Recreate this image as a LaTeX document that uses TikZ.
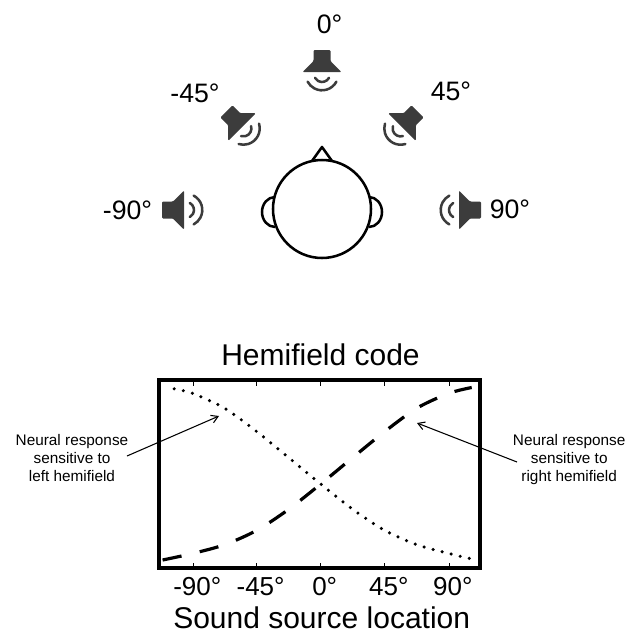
\documentclass[tikz,border=0pt]{standalone}
\usepackage{fontspec}
\setmainfont{Liberation Sans}
\usetikzlibrary{arrows.meta}
\definecolor{spk}{RGB}{60,60,60}
\begin{document}
\begin{tikzpicture}[x=0.75pt,y=-0.75pt,
  angle label/.style={font=\fontsize{20}{24}\selectfont, anchor=base, inner sep=0pt},
  tick label/.style={font=\fontsize{19.5}{23}\selectfont, anchor=base, inner sep=0pt},
  axis title/.style={font=\fontsize{22.5}{27}\selectfont, anchor=base, inner sep=0pt},
  note/.style={font=\fontsize{11.5}{13.5}\selectfont, align=center, anchor=base, inner sep=0pt},
  pointer/.style={line width=0.8pt, -{Straight Barb[length=5pt,width=6pt]}},
  headline/.style={line width=1.9pt, line join=round},
  leftcurve/.style={line width=2.6pt, line cap=round, dash pattern=on 0pt off 7pt},
  rightcurve/.style={line width=2.4pt, dash pattern=on 14.5pt off 14pt},
  speaker/.pic={
    \fill[spk, rounded corners=0.8pt]
      (-22,-8.5) -- (-11,-8.5) -- (0,-19.5) -- (0,19.5) -- (-11,8.5) -- (-22,8.5) -- cycle;
    \draw[spk, line width=1.9pt, line cap=round]
      (2,0) ++(-62:8) arc[start angle=-62, end angle=62, radius=8];
    \draw[spk, line width=1.9pt, line cap=round]
      (2,0) ++(-62:16.3) arc[start angle=-62, end angle=62, radius=16.3];
  }
]
\useasboundingbox (0,0) rectangle (627,633);

% loudspeakers around the listener, each facing the head
\pic[rotate=-90]  at (322,72)  {speaker};
\pic[rotate=-45]  at (242,127) {speaker};
\pic[rotate=-135] at (402,127) {speaker};
\pic              at (184,210) {speaker};
\pic[rotate=180]  at (459,210) {speaker};

% azimuth labels
\node[angle label] (a0)  at (329.5,33) {0°};
\node[angle label] (am45) at (195,102) {-45°};
\node[angle label] (ap45) at (451,100) {45°};
\node[angle label] (am90) at (127.5,219) {-90°};
\node[angle label] (ap90) at (510,218) {90°};

% head seen from above: nose, ears, skull
\draw[headline] (312,161) -- (322,147) -- (332,161);
\draw[headline] (275,197) arc[start angle=-90, end angle=-270, x radius=13, y radius=15];
\draw[headline] (369,197) arc[start angle=-90, end angle=90, x radius=13, y radius=15];
\draw[headline, fill=white] (322,209) circle[radius=49];

% response plot frame and ticks
\draw[line width=2.5pt] (159,380) rectangle (480,568);
\foreach \t/\lab [count=\i] in {193.3/-90°, 256.6/-45°, 320.7/0°, 384.8/45°, 448.9/90°} {
  \draw[line width=0.6pt] (\t,381) -- (\t,385.5);
  \draw[line width=0.6pt] (\t,567) -- (\t,562.5);
  \node[tick label] (tick\i) at (\t+4,595) {\lab};
}

\node[axis title] (title) at (320.5,365) {Hemifield code};
\node[axis title] (xlabel) at (321.7,628) {Sound source location};

% tuning curves of the two hemifield channels
\draw[leftcurve] plot[smooth] coordinates {
  (174.2,388.8) (192.5,393.3) (224.6,408.2) (256.6,431.5) (288.7,457.6)
  (320.7,484) (352.7,509.3) (384.8,530.4) (416.8,544.7) (448.9,553.5) (473.1,559.3)};
\draw[rightcurve] plot[smooth] coordinates {
  (162.6,560) (192.5,553.5) (224.6,544.7) (256.6,530.4) (288.7,509.3)
  (320.7,484) (352.7,457.6) (384.8,431.5) (416.8,408.2) (448.9,393.3) (471.7,387.5)};

% annotations
\node[note] (leftnote) at (72,481) {Neural response\\sensitive to\\left hemifield};
\node[note] (rightnote) at (569.2,481) {Neural response\\sensitive to\\right hemifield};
\coordinate (leftfoot) at (127,456);
\coordinate (lefttip) at (219,416);
\coordinate (rightfoot) at (517,462);
\coordinate (righttip) at (417,423);
\draw[pointer] (leftfoot) -- (lefttip);
\draw[pointer] (rightfoot) -- (righttip);
\end{tikzpicture}
\end{document}
